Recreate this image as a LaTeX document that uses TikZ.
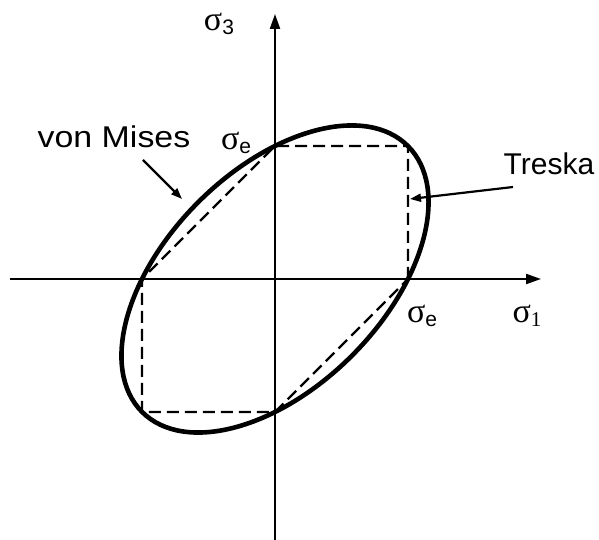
\documentclass[tikz,border=0pt]{standalone}
\usepackage{fontspec}
\setmainfont{Liberation Sans}
\newfontfamily\sigfont{Liberation Serif}
\usetikzlibrary{arrows.meta}
\newcommand{\sig}[1]{{\sigfont\fontsize{34}{40}\selectfont σ}\raisebox{-4pt}{\fontsize{21}{24}\selectfont #1}}
\newcommand{\sigs}[1]{{\sigfont\fontsize{34}{40}\selectfont σ}\raisebox{-4pt}{\sigfont\fontsize{21}{24}\selectfont #1}}
\begin{document}
\begin{tikzpicture}[x=1pt,y=1pt,
  axis/.style={line width=2.2pt,-{Triangle[length=15pt,width=10pt]}},
  curve/.style={line width=4.6pt},
  tresca/.style={line width=2.2pt,dash pattern=on 12pt off 6pt},
  pointer/.style={line width=2.2pt,-{Triangle[length=11pt,width=8pt]}},
  lbl/.style={inner sep=0pt,font=\fontsize{30}{36}\selectfont}]
\useasboundingbox (0,0) rectangle (599,540);
\coordinate (O) at (275,261);
% axes
\coordinate (xl) at (10,261);
\coordinate (xr) at (541,261);
\coordinate (yb) at (275,0);
\coordinate (yt) at (275,526);
\draw[axis] (xl) -- (xr);
\draw[axis] (yb) -- (yt);
% Tresca hexagon
\coordinate (A) at (408,261);
\coordinate (B) at (408,394);
\coordinate (C) at (275,394);
\coordinate (D) at (142,261);
\coordinate (E) at (142,128);
\coordinate (F) at (275,128);
\draw[tresca] (A) -- (B) -- (C) -- (D) -- (E) -- (F) -- cycle;
% von Mises ellipse
\draw[curve,rotate around={45:(O)}] (O) ellipse [x radius=188, y radius=108.6];
% labels
\node[lbl,anchor=base] (vm) at (114,392) {\scalebox{1.13}[1]{von Mises}};
\node[lbl,anchor=base] (tr) at (549,365) {Treska};
\node[inner sep=0pt] (s3) at (219,516) {\sig{3}};
\node[inner sep=0pt] (se1) at (236,397) {\sig{e}};
\node[inner sep=0pt] (se2) at (422,224) {\sig{e}};
\node[inner sep=0pt] (s1) at (527,224) {\sigs{1}};
% pointers
\coordinate (vmS) at (143,380);
\coordinate (vmE) at (182,341);
\coordinate (trS) at (513,353);
\coordinate (trE) at (410,341);
\draw[pointer] (vmS) -- (vmE);
\draw[pointer] (trS) -- (trE);
\end{tikzpicture}
\end{document}
